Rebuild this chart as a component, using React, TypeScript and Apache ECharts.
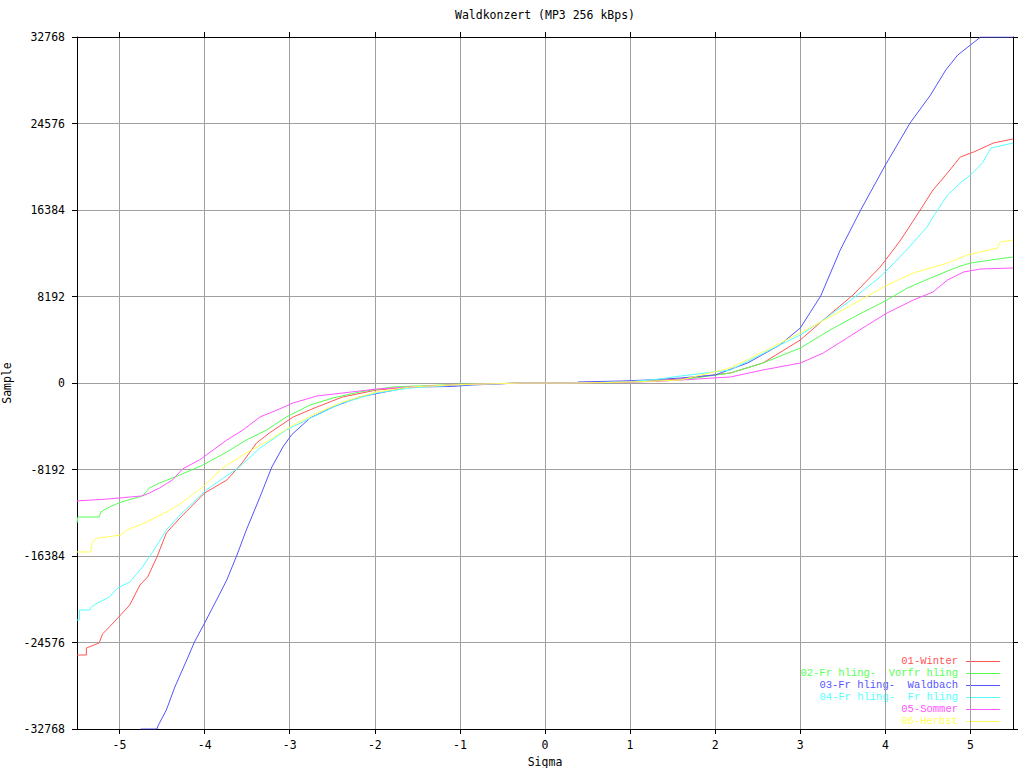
import { useEffect, useRef } from 'react';
import * as echarts from 'echarts';

const chartTitle = 'Waldkonzert (MP3 256 kBps)';
const xName = 'Sigma';
const yName = 'Sample';
const seriesNames = [
  '01-Winter',
  '02-Fr hling-  Vorfr hling',
  '03-Fr hling-  Waldbach',
  '04-Fr hling-  Fr hling',
  '05-Sommer',
  '06-Herbst',
];
const seriesColors = ['#ff5555', '#55ff55', '#5555ff', '#55ffff', '#ff55ff', '#ffff55'];
const sigmaTicks = [-5, -4, -3, -2, -1, 0, 1, 2, 3, 4, 5];

const winter: [number, number][] = [
  [-5.5, -25760], [-5.39, -25760], [-5.39, -25100], [-5.24, -24620], [-5.2, -23770], [-5.12, -23110],
  [-5.02, -22250], [-4.88, -21020], [-4.76, -19130], [-4.67, -18370], [-4.56, -16480], [-4.45, -14200],
  [-4.29, -12780], [-4.0, -10420], [-3.74, -9190], [-3.56, -7580], [-3.39, -5680], [-3.24, -4740],
  [-2.96, -3220], [-2.68, -2270], [-2.38, -1330], [-1.98, -660], [-1.59, -380], [-1.0, -170],
  [-0.5, -60], [-0.25, 0], [0.3, 0], [0.7, 50], [1.0, 110], [1.3, 220], [1.59, 380], [2.18, 950],
  [2.56, 1890], [3.0, 4070], [3.27, 5970], [3.62, 8330], [3.94, 10990], [4.18, 13540], [4.41, 16380],
  [4.56, 18280], [4.73, 19890], [4.88, 21400], [5.04, 21880], [5.27, 22730], [5.5, 23110],
];

const vorfruehling: [number, number][] = [
  [-5.5, -13260], [-5.49, -12690], [-5.24, -12690], [-5.22, -12220], [-5.12, -11740], [-4.98, -11270],
  [-4.73, -10700], [-4.65, -9940], [-4.53, -9470], [-4.29, -8710], [-4.02, -7770], [-3.74, -6530],
  [-3.51, -5400], [-3.27, -4450], [-3.04, -3220], [-2.76, -2080], [-2.49, -1420], [-2.18, -850],
  [-1.79, -380], [-1.0, -120], [-0.5, -40], [-0.25, 0], [0.3, 0], [0.7, 40], [1.0, 90], [1.3, 180],
  [1.59, 280], [2.18, 950], [2.56, 1890], [3.0, 3310], [3.35, 5020], [3.74, 6720], [4.02, 7860],
  [4.26, 9000], [4.53, 9940], [4.85, 10990], [5.0, 11360], [5.32, 11740], [5.5, 11930],
];

const waldbach: [number, number][] = [
  [-4.75, -32768], [-4.56, -32768], [-4.55, -32500], [-4.45, -30970], [-4.35, -28790], [-4.21, -26230],
  [-4.12, -24530], [-4.0, -22730], [-3.86, -20550], [-3.74, -18660], [-3.62, -16290], [-3.51, -13920],
  [-3.35, -10800], [-3.21, -7950], [-3.08, -6060], [-2.98, -4920], [-2.76, -3310], [-2.49, -2270],
  [-2.18, -1330], [-1.59, -380], [-1.1, -330], [-0.85, -190], [-0.3, 0], [0.35, 0], [0.4, 100],
  [0.9, 190], [1.2, 280], [1.59, 470], [2.0, 760], [2.38, 1890], [2.76, 3600], [3.0, 5210],
  [3.24, 8240], [3.47, 12600], [3.71, 16380], [4.0, 20640], [4.29, 24620], [4.53, 27270],
  [4.71, 29640], [4.85, 31060], [5.0, 32010], [5.12, 32768], [5.5, 32768],
];

const fruehling: [number, number][] = [
  [-5.5, -22440], [-5.47, -22440], [-5.47, -21500], [-5.35, -21500], [-5.33, -21210], [-5.26, -20830],
  [-5.12, -20270], [-5.02, -19410], [-4.88, -18850], [-4.73, -17420], [-4.61, -16000], [-4.45, -13920],
  [-4.29, -12500], [-3.98, -10130], [-3.59, -7950], [-3.35, -6160], [-3.04, -4450], [-2.73, -3220],
  [-2.38, -1890], [-1.98, -950], [-1.59, -470], [-1.0, -180], [-0.5, -60], [-0.25, 0], [0.3, 0],
  [0.7, 60], [1.0, 130], [1.3, 330], [1.59, 660], [2.18, 1230], [2.76, 3600], [3.0, 4550],
  [3.27, 5970], [3.55, 7580], [3.94, 10040], [4.26, 12690], [4.49, 14770], [4.56, 15720],
  [4.73, 17800], [4.88, 18940], [5.0, 19700], [5.14, 20830], [5.24, 22250], [5.5, 22730],
];

const sommer: [number, number][] = [
  [-5.5, -11170], [-5.14, -10990], [-4.74, -10700], [-4.65, -10420], [-4.53, -9940], [-4.38, -9190],
  [-4.26, -8140], [-4.06, -7290], [-3.74, -5400], [-3.55, -4450], [-3.35, -3220], [-3.15, -2560],
  [-2.96, -1890], [-2.68, -1230], [-2.38, -950], [-1.98, -570], [-1.59, -380], [-1.0, -150],
  [-0.5, -50], [-0.25, 0], [0.3, 0], [0.7, 40], [1.0, 80], [1.3, 150], [1.59, 280], [2.18, 570],
  [2.56, 1230], [3.0, 1890], [3.27, 2840], [3.55, 4260], [3.79, 5490], [4.02, 6630], [4.33, 7860],
  [4.56, 8620], [4.73, 9750], [4.92, 10510], [5.12, 10800], [5.5, 10890],
];

const herbst: [number, number][] = [
  [-5.5, -16000], [-5.34, -16000], [-5.32, -15060], [-5.26, -14680], [-5.15, -14580], [-4.98, -14390],
  [-4.91, -13920], [-4.68, -13160], [-4.45, -12220], [-4.29, -11460], [-4.02, -9850], [-3.79, -8050],
  [-3.51, -6630], [-3.24, -5400], [-2.96, -3980], [-2.68, -2840], [-2.38, -1800], [-1.98, -850],
  [-1.59, -380], [-1.0, -150], [-0.5, -50], [-0.25, 0], [0.3, 0], [0.7, 40], [1.0, 100], [1.3, 180],
  [1.59, 280], [2.18, 1420], [2.56, 2940], [3.0, 4740], [3.35, 6250], [3.71, 7860], [4.02, 9280],
  [4.33, 10420], [4.73, 11360], [4.96, 12120], [5.32, 12780], [5.35, 13350], [5.5, 13540],
];

const seriesData = [winter, vorfruehling, waldbach, fruehling, sommer, herbst];

const FONT = '"DejaVu Sans Mono", "Liberation Mono", monospace';
const LEGEND_FONT = '"Liberation Mono", "DejaVu Sans Mono", monospace';
const FS = 11.5;
const LEGEND_FS = 10.5;

export default function App() {
  const ref = useRef<HTMLDivElement>(null);
  useEffect(() => {
    if (!ref.current) return;
    const chart = echarts.init(ref.current, null, { renderer: 'svg' });
    const axisLineStyle = { color: '#000', width: 1 };
    const legendTop = 661;
    const rowH = 12;
    const legendGraphics: any[] = [];
    seriesNames.forEach((name, i) => {
      const y = legendTop + i * rowH;
      legendGraphics.push({
        type: 'text',
        x: 958,
        y,
        style: {
          text: name,
          fill: seriesColors[i],
          font: `${LEGEND_FS}px ${LEGEND_FONT}`,
          textAlign: 'right',
          textVerticalAlign: 'middle',
        },
      });
      legendGraphics.push({
        type: 'line',
        shape: { x1: 966, y1: y + 0.5, x2: 1000, y2: y + 0.5 },
        style: { stroke: seriesColors[i], lineWidth: 1 },
      });
    });
    chart.setOption({
      animation: false,
      backgroundColor: '#ffffff',
      grid: { left: 77, right: 11, top: 37, bottom: 39, containLabel: false, outerBoundsMode: 'none' },
      graphic: [
        {
          type: 'text',
          x: 545,
          y: 15,
          style: {
            text: chartTitle,
            fill: '#000',
            font: `${FS}px ${FONT}`,
            textAlign: 'center',
            textVerticalAlign: 'middle',
          },
        },
        ...legendGraphics,
      ],
      xAxis: [
        {
          type: 'value',
          min: -5.5,
          max: 5.5,
          splitNumber: 11,
          position: 'bottom',
          name: xName,
          nameLocation: 'middle',
          nameGap: 27,
          nameTextStyle: { color: '#000', fontFamily: FONT, fontSize: FS },
          axisLine: { show: true, onZero: false, lineStyle: axisLineStyle },
          axisTick: { show: true, inside: false, length: 5, customValues: sigmaTicks, lineStyle: axisLineStyle },
          axisLabel: {
            show: true,
            customValues: sigmaTicks,
            margin: 10,
            color: '#000',
            fontFamily: FONT,
            fontSize: FS,
            formatter: (v: number) => String(v),
          },
          splitLine: { show: true, lineStyle: { color: '#a0a0a0', width: 1 } },
        },
        {
          type: 'value',
          min: -5.5,
          max: 5.5,
          splitNumber: 11,
          position: 'top',
          axisLine: { show: true, onZero: false, lineStyle: axisLineStyle },
          axisTick: { show: true, inside: false, length: 5, customValues: sigmaTicks, lineStyle: axisLineStyle },
          axisLabel: { show: false },
          splitLine: { show: false },
        },
      ],
      yAxis: [
        {
          type: 'value',
          min: -32768,
          max: 32768,
          interval: 8192,
          position: 'left',
          name: yName,
          nameLocation: 'middle',
          nameGap: 58,
          nameTextStyle: { color: '#000', fontFamily: FONT, fontSize: FS },
          axisLine: { show: true, onZero: false, lineStyle: axisLineStyle },
          axisTick: { show: true, inside: false, length: 5, lineStyle: axisLineStyle },
          axisLabel: {
            show: true,
            margin: 12,
            color: '#000',
            fontFamily: FONT,
            fontSize: FS,
            showMinLabel: true,
            showMaxLabel: true,
            formatter: (v: number) => String(v),
          },
          splitLine: { show: true, lineStyle: { color: '#a0a0a0', width: 1 } },
        },
        {
          type: 'value',
          min: -32768,
          max: 32768,
          interval: 8192,
          position: 'right',
          axisLine: { show: true, onZero: false, lineStyle: axisLineStyle },
          axisTick: { show: true, inside: false, length: 5, lineStyle: axisLineStyle },
          axisLabel: { show: false },
          splitLine: { show: false },
        },
      ],
      series: seriesNames.map((name, i) => ({
        name,
        type: 'line',
        xAxisIndex: 0,
        yAxisIndex: 0,
        data: seriesData[i],
        showSymbol: false,
        symbol: 'none',
        clip: true,
        lineStyle: { color: seriesColors[i], width: 1 },
        itemStyle: { color: seriesColors[i] },
      })),
    });
    return () => chart.dispose();
  }, []);
  return (
    <div
      ref={ref}
      style={{ position: 'absolute', left: 0, top: 0, width: 1024, height: 768, background: '#fff' }}
    />
  );
}
